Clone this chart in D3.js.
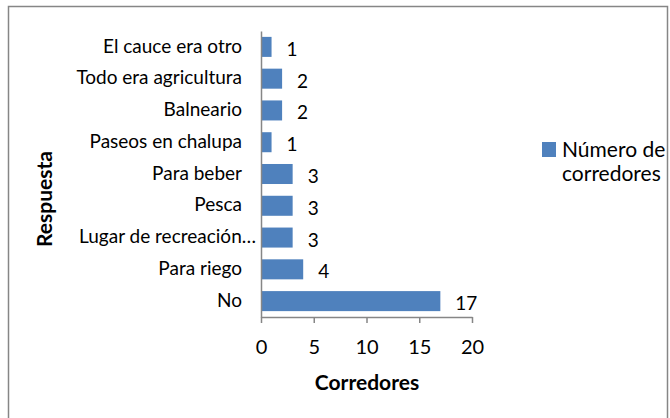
<!DOCTYPE html>
<html>
<head>
<meta charset="utf-8">
<script src="https://cdn.jsdelivr.net/npm/d3@7"></script>
<style>
  body { margin: 0; background: #fff; }
  text { font-family: Lato, "Open Sans", sans-serif; fill: #000; }
</style>
</head>
<body>
<div id="chart"></div>
<script>
var categories = ["El cauce era otro", "Todo era agricultura", "Balneario", "Paseos en chalupa",
    "Para beber", "Pesca", "Lugar de recreación…", "Para riego", "No"];
var values = [1, 2, 2, 1, 3, 3, 3, 4, 17];
var xTicks = [0, 5, 10, 15, 20];
var seriesName = ["Número de", "corredores"];

var width = 670, height = 418;
var plotLeft = 261, plotRight = 472, plotTop = 31, plotBottom = 317;
var barColor = "#4f81bd";
var axisColor = "#868686";

var svg = d3.select("#chart")
    .append("svg")
    .attr("width", width)
    .attr("height", height);

// outer frame
svg.append("rect")
    .attr("x", 8.5).attr("y", 6.5)
    .attr("width", 659).attr("height", 420)
    .attr("fill", "#fff")
    .attr("stroke", axisColor)
    .attr("stroke-width", 1.5);

var x = d3.scaleLinear().domain([0, 20]).range([plotLeft, plotRight]);
var y = d3.scaleBand().domain(categories).range([plotTop, plotBottom]).paddingInner(0.37).paddingOuter(0.185);

// bars
svg.selectAll(".bar")
    .data(values)
    .enter().append("rect")
    .attr("class", "bar")
    .attr("x", x(0))
    .attr("y", function(d, i) { return y(categories[i]); })
    .attr("width", function(d) { return x(d) - x(0); })
    .attr("height", y.bandwidth())
    .attr("fill", barColor);

// data labels
svg.selectAll(".lbl")
    .data(values)
    .enter().append("text")
    .attr("class", "lbl")
    .attr("x", function(d) { return x(d) + 15; })
    .attr("y", function(d, i) { return y(categories[i]) + y.bandwidth() / 2 + 9; })
    .attr("font-size", 19)
    .text(function(d) { return d; });

// x axis
var xAxis = svg.append("g")
    .attr("transform", "translate(0," + plotBottom + ")")
    .call(d3.axisBottom(x).tickValues(xTicks).tickSize(6).tickPadding(17).tickSizeOuter(0));
xAxis.select(".domain").attr("stroke", axisColor).attr("stroke-width", 1.5);
xAxis.selectAll(".tick line").attr("stroke", axisColor).attr("stroke-width", 1.5);
xAxis.selectAll(".tick text")
    .attr("font-size", 20)
    .attr("fill", "#000");

// y axis
var yAxis = svg.append("g")
    .attr("transform", "translate(" + plotLeft + ",0)")
    .call(d3.axisLeft(y).tickSize(0).tickPadding(19));
yAxis.select(".domain").attr("stroke", axisColor).attr("stroke-width", 1.5);
yAxis.selectAll(".tick text")
    .attr("font-size", 19)
    .attr("fill", "#000")
    .attr("dy", "0.3em")
    .attr("x", function(d) { return d.slice(-1) === "…" ? -5 : -19; });

// axis titles
svg.append("text")
    .attr("x", 367)
    .attr("y", 390)
    .attr("text-anchor", "middle")
    .attr("font-size", 21)
    .attr("font-weight", "bold")
    .text("Corredores");

svg.append("text")
    .attr("transform", "translate(52,199) rotate(-90)")
    .attr("text-anchor", "middle")
    .attr("font-size", 21)
    .attr("font-weight", "bold")
    .text("Respuesta");

// legend
var legend = svg.append("g").attr("transform", "translate(542,142)");
legend.append("rect")
    .attr("width", 14).attr("height", 15)
    .attr("fill", barColor);
legend.selectAll("text")
    .data(seriesName)
    .enter().append("text")
    .attr("x", 20)
    .attr("y", function(d, i) { return 15 + i * 24; })
    .attr("font-size", 21)
    .text(function(d) { return d; });
</script>
</body>
</html>
